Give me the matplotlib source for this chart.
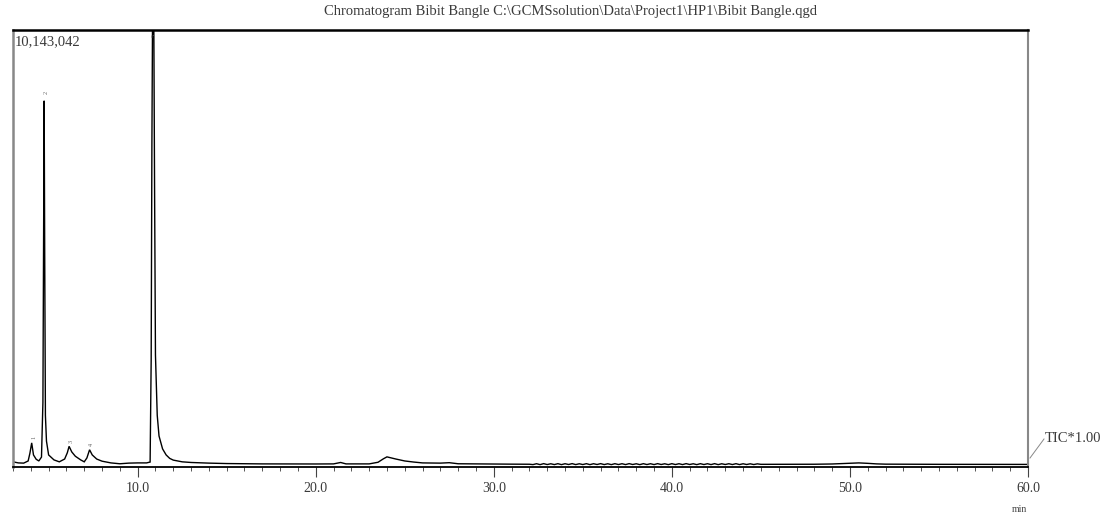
import matplotlib
matplotlib.use("Agg")
import matplotlib.pyplot as plt
from matplotlib.ticker import MultipleLocator, FixedLocator

# ---- data (retention time in min, intensity in thousand counts) ----
full_scale = 10143042
time_min = [
    3.0, 3.3, 3.6, 3.85, 3.95, 4.05, 4.15, 4.3, 4.45, 4.6, 4.68, 4.72, 4.75, 4.78, 4.82,
    4.88, 5.0, 5.3, 5.6, 5.9, 6.05, 6.15, 6.3, 6.5, 6.8, 7.0, 7.15, 7.3, 7.45, 7.7,
    8.0, 8.5, 9.0, 9.5, 10.0, 10.5, 10.7, 10.76, 10.8, 10.85, 10.9, 10.95, 11.0, 11.1,
    11.2, 11.4, 11.6, 11.8, 12.0, 12.5, 13.0, 14.0, 15.0, 17.0, 20.0, 21.0, 21.4, 21.7,
    23.0, 23.5, 23.8, 24.0, 24.5, 25.0, 25.5, 26.0, 27.0, 27.5, 28.0, 30.0, 31.0, 32.0,
    32.2, 32.4, 32.6, 32.8, 33.0, 33.2, 33.4, 33.6, 33.8, 34.0, 34.2, 34.4, 34.6, 34.8,
    35.0, 35.2, 35.4, 35.6, 35.8, 36.0, 36.2, 36.4, 36.6, 36.8, 37.0, 37.2, 37.4, 37.6,
    37.8, 38.0, 38.2, 38.4, 38.6, 38.8, 39.0, 39.2, 39.4, 39.6, 39.8, 40.0, 40.2, 40.4,
    40.6, 40.8, 41.0, 41.2, 41.4, 41.6, 41.8, 42.0, 42.2, 42.4, 42.6, 42.8, 43.0, 43.2,
    43.4, 43.6, 43.8, 44.0, 44.2, 44.4, 44.6, 44.8, 45.0, 46.0, 47.0, 48.0, 49.0, 49.5,
    50.0, 50.5, 51.0, 51.5, 52.0, 55.0, 60.0,
]
intensity_k = [
    120, 95, 90, 140, 320, 560, 280, 180, 140, 230, 1500, 5200, 8500, 5000, 1200,
    600, 280, 165, 120, 185, 330, 480, 350, 250, 165, 120, 210, 400, 280, 185,
    135, 95, 75, 90, 95, 95, 115, 2500, 7500, 11500, 11000, 6500, 2600, 1200,
    720, 420, 280, 200, 160, 120, 105, 90, 80, 72, 70, 72, 105, 72,
    72, 110, 190, 235, 185, 140, 115, 95, 90, 100, 75, 68, 66, 64,
    56, 76, 55, 78, 57, 75, 56, 77, 55, 76, 58, 78, 56, 75,
    57, 77, 55, 76, 58, 78, 56, 75, 55, 77, 57, 76, 56, 78,
    58, 75, 55, 77, 57, 76, 56, 78, 58, 75, 55, 77, 57, 76,
    56, 78, 58, 75, 55, 77, 57, 76, 56, 78, 55, 75, 58, 76,
    57, 77, 56, 75, 58, 74, 57, 73, 62, 62, 60, 64, 70, 78,
    88, 95, 85, 72, 66, 62, 60,
]
peak_times = [4.05, 4.75, 6.15, 7.3, 10.85]
peak_labels = ["1", "2", "3", "4", "5"]
peak_label_k = [640, 8650, 560, 480, 10050]
major_ticks = [10, 20, 30, 40, 50, 60]
major_labels = ["10.0", "20.0", "30.0", "40.0", "50.0", "60.0"]
title_text = r"Chromatogram Bibit Bangle C:\GCMSsolution\Data\Project1\HP1\Bibit Bangle.qgd"
scale_text = "10,143,042"
trace_text = "TIC*1.00"

serif = ["Liberation Serif", "DejaVu Serif"]

fig = plt.figure(figsize=(11.04, 5.15), dpi=100)
W, H = 1104, 515
left, right, top, bottom = 13, 1028, 30, 467
ax = fig.add_axes([left / W, 1 - bottom / H, (right - left) / W, (bottom - top) / H])

y = [v * 1000 for v in intensity_k]
ax.plot(time_min, y, color="black", lw=1.0, solid_joinstyle="miter")
ax.set_xlim(3.0, 60.0)
ax.set_ylim(0, full_scale)

for t, lab, yk in zip(peak_times, peak_labels, peak_label_k):
    ax.text(t + 0.1, min(yk * 1000, full_scale * 0.985), lab, fontsize=4.5, color="#666666",
            rotation=90, ha="center", va="bottom", family=serif, clip_on=False)

ax.xaxis.set_major_locator(FixedLocator(major_ticks))
ax.xaxis.set_minor_locator(MultipleLocator(1.0))
ax.set_xticklabels(major_labels, family=serif, fontsize=10, color="#3a3a3a")
ax.tick_params(axis="x", which="major", direction="out", length=7, width=0.8, color="#444444", pad=4)
ax.tick_params(axis="x", which="minor", direction="out", length=3, width=0.7, color="#555555")
ax.set_yticks([])

ax.spines["top"].set_linewidth(1.8)
ax.spines["top"].set_color("black")
ax.spines["bottom"].set_linewidth(1.3)
ax.spines["bottom"].set_color("black")
ax.spines["left"].set_linewidth(1.8)
ax.spines["left"].set_color("#888888")
ax.spines["right"].set_linewidth(1.5)
ax.spines["right"].set_color("#888888")

fig.text(570 / W, 1 - 12 / H, title_text, ha="center", va="center", fontsize=10.5,
         family=serif, color="#3a3a3a")
fig.text(15 / W, 1 - 42 / H, scale_text, ha="left", va="center", fontsize=10.5,
         family=serif, color="#3a3a3a")
fig.text(1045 / W, 1 - 438 / H, trace_text, ha="left", va="center", fontsize=10.5,
         family=serif, color="#3a3a3a")
fig.add_artist(plt.Line2D([1030 / W, 1044 / W], [1 - 458 / H, 1 - 439 / H],
                          color="#888888", lw=0.7))
fig.text(1019 / W, 1 - 509 / H, "min", ha="center", va="center", fontsize=7,
         family=serif, color="#444444")

fig.savefig("out.png", dpi=100, facecolor="white")
